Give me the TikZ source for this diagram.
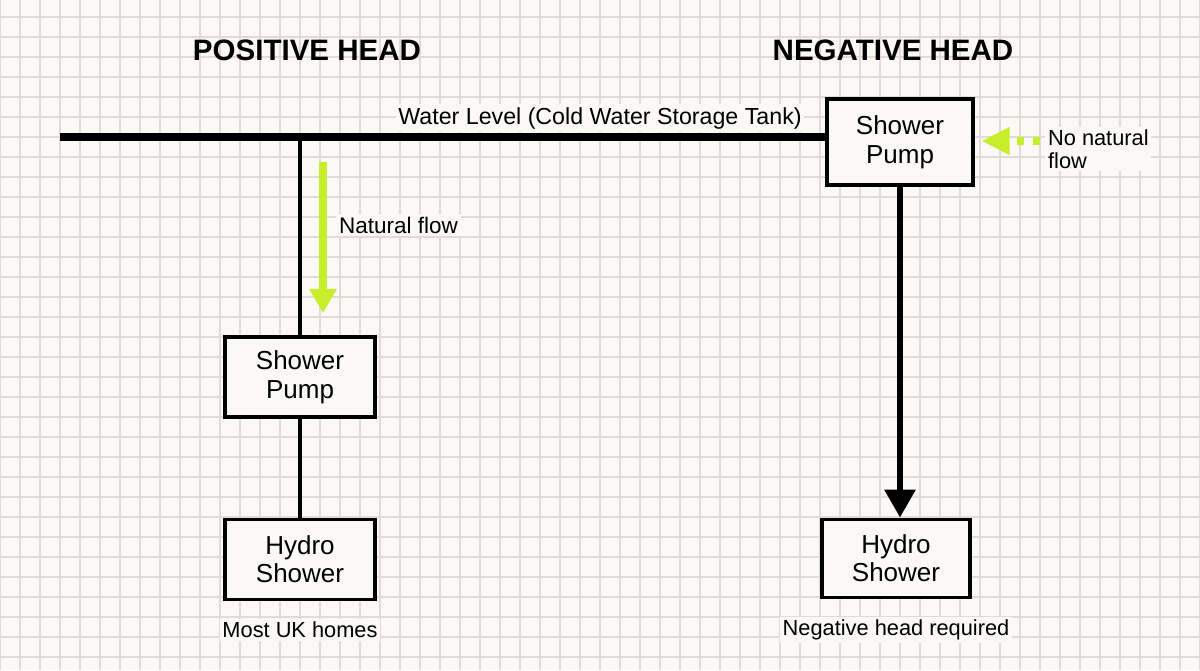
\documentclass[tikz,border=0pt]{standalone}
\usepackage{fontspec}
\setmainfont{Liberation Sans}
\usepackage{tikz}
\usetikzlibrary{arrows.meta, positioning}
\usepackage{xcolor}
\definecolor{paperbg}{RGB}{250,249,245}
\definecolor{gridgray}{RGB}{224,218,216}
\definecolor{flowgreen}{RGB}{198,238,42}

\begin{document}
\begin{tikzpicture}[
    x=0.025cm, y=-0.025cm,
    node distance=0.5cm,
    headtitle/.style={font=\fontsize{21}{24}\selectfont\bfseries},
    pumpbox/.style={rectangle, draw=black, fill=paperbg, line width=2.2pt, minimum width=3.75cm, minimum height=2.0cm, align=center, font=\fontsize{18.5}{20.5}\selectfont},
    note/.style={fill=paperbg, inner sep=2pt, align=left, font=\fontsize{15.5}{16}\selectfont},
    pipe/.style={line width=2.8pt},
    gridline/.style={gridgray, line width=0.8pt},
    flowarrow/.style={-{Triangle[length=0.6cm, width=0.65cm]}, line width=5pt, flowgreen},
    pumparrow/.style={-{Triangle[length=0.7cm, width=0.75cm]}, line width=4.3pt},
]
    % paper with grid
    \fill[paperbg] (0,0) rectangle (1200,670);
    \useasboundingbox (0,0) rectangle (1200,670);
    \foreach \x in {0,20,...,1200}
        \draw[gridline] (\x,0) -- (\x,670);
    \foreach \y in {17,37,...,670}
        \draw[gridline] (0,\y) -- (1200,\y);

    \node[headtitle] (postitle) at (307,50) {POSITIVE HEAD};
    \node[headtitle] (negtitle) at (893,50) {NEGATIVE HEAD};

    \node[pumpbox, line width=3.5pt, minimum width=3.65cm, minimum height=2.15cm] (pumpneg) at (900,142) {Shower\\Pump};
    \node[pumpbox, minimum width=3.7cm, minimum height=1.95cm, below=8.25cm of pumpneg, xshift=-0.1cm] (hydroneg) {Hydro\\Shower};
    \node[note, below=0.45cm of hydroneg] (negnote) {Negative head required};

    \node[pumpbox] (pumppos) at (300,377) {Shower\\Pump};
    \node[pumpbox, below=2.475cm of pumppos] (hydropos) {Hydro\\Shower};
    \node[note, below=0.45cm of hydropos] (posnote) {Most UK homes};

    \coordinate (tankend) at (60,137);
    \coordinate (tee) at (300,137);
    \coordinate (flowtop) at (323,162);
    \coordinate (flowbot) at (323,313);
    \coordinate (nostart) at (1040,141);

    % pipes
    \draw[line width=5pt] (tankend) -- (tankend -| pumpneg.west);
    \draw[pipe] (tee) -- (pumppos.north);
    \draw[pipe] (pumppos.south) -- (hydropos.north);
    \draw[pumparrow] (pumpneg.south) -- (pumpneg.south |- hydroneg.north);

    \node[note, font=\fontsize{16.5}{18}\selectfont] (waterlevel) at (600,118) {Water Level (Cold Water Storage Tank)};

    % flow hints
    \draw[flowarrow] (flowtop) -- (flowbot);
    \node[note, anchor=west, font=\fontsize{16}{18}\selectfont] (natflow) at (336,225) {Natural flow};
    \draw[flowarrow, -{Triangle[length=0.7cm, width=0.65cm]}, dash pattern=on 0.18cm off 0.22cm] (nostart) -- ([xshift=0.15cm]pumpneg.east |- nostart);
    \node[note, anchor=west] (nonatflow) at (1045,149) {No natural\\flow};
\end{tikzpicture}
\end{document}
